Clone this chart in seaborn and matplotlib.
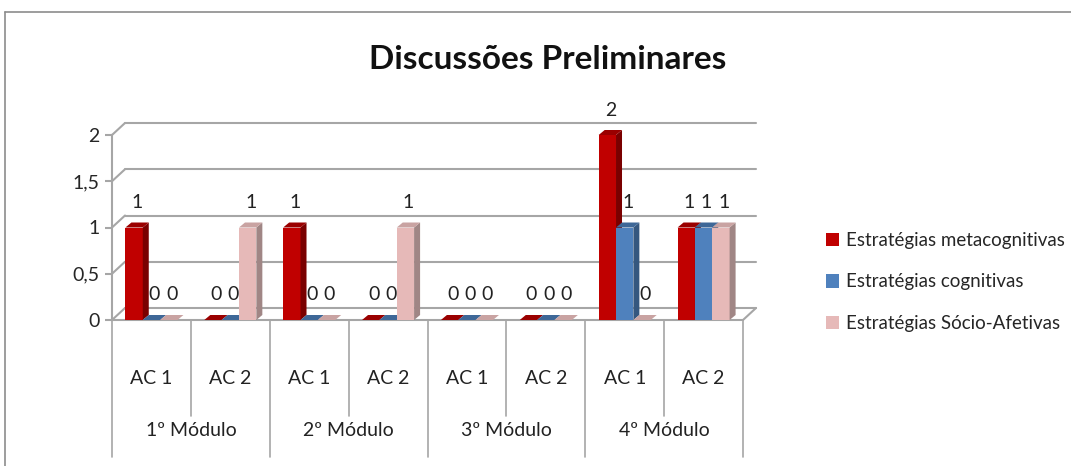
import matplotlib
matplotlib.use("Agg")
import matplotlib.pyplot as plt
from matplotlib.patches import Polygon, Patch
from matplotlib.lines import Line2D
import seaborn as sns
import pandas as pd

modulos = ["1º Módulo", "2º Módulo", "3º Módulo", "4º Módulo"]
atividades = ["AC 1", "AC 2"]
series = ["Estratégias metacognitivas", "Estratégias cognitivas", "Estratégias Sócio-Afetivas"]
metacognitivas = [1, 0, 1, 0, 0, 0, 2, 1]
cognitivas = [0, 0, 0, 0, 0, 0, 1, 1]
socio_afetivas = [0, 1, 0, 1, 0, 0, 0, 1]
yticks = [0, 0.5, 1, 1.5, 2]

cores = ["#C00000", "#4F81BD", "#E6B9B8"]
lados = ["#7A0000", "#35577F", "#A08685"]
topos = ["#9A0000", "#3E6797", "#C9A3A2"]
cinza = "#A6A6A6"

sns.set_style("white")
plt.rcParams["font.family"] = ["Lato", "DejaVu Sans"]

cats = [f"{m}|{a}" for m in modulos for a in atividades]
df = pd.DataFrame({
    "cat": cats * 3,
    "valor": metacognitivas + cognitivas + socio_afetivas,
    "serie": [s for s in series for _ in cats],
})

W, H = 1071, 466
fig = plt.figure(figsize=(W / 100, H / 100), dpi=100)
ax = fig.add_axes([112 / W, (H - 320) / H, (743 - 112) / W, 185 / H])
sns.barplot(data=df, x="cat", y="valor", hue="serie", order=cats, hue_order=series,
            palette=cores, saturation=1, width=0.66, legend=False, ax=ax)
ax.set_xlim(-0.5, len(cats) - 0.5)
ax.set_ylim(0, 2)
ax.patch.set_visible(False)
for s in ["top", "right", "bottom"]:
    ax.spines[s].set_visible(False)
ax.spines["left"].set_color(cinza)
ax.spines["left"].set_linewidth(1.5)
ax.set_xticks([])
ax.set_xlabel("")
ax.set_ylabel("")
ax.set_yticks(yticks, [f"{v:g}".replace(".", ",") for v in yticks])
ax.tick_params(axis="y", left=True, length=5, width=1.5, color=cinza, labelsize=14, pad=4)

# px -> data
bb = ax.get_window_extent()
ux = (len(cats)) / bb.width
uy = 2 / bb.height
x0a, x1a = ax.get_xlim()

# wall / floor
dxw, dyw = 13 * ux, 12 * uy
for y in yticks:
    ax.plot([x0a + dxw, x1a + dxw], [y + dyw, y + dyw], color=cinza, lw=1.5, zorder=1, clip_on=False)
    ax.plot([x0a, x0a + dxw], [y, y + dyw], color=cinza, lw=1.5, zorder=1, clip_on=False)
ax.plot([x0a, x1a, x1a + dxw], [0, 0, dyw], color=cinza, lw=1.5, zorder=1, clip_on=False)

# 3D bars
dxb, dyb = 6 * ux, 5 * uy
for i, cont in enumerate(ax.containers):
    for bar in cont:
        x0, w, h = bar.get_x(), bar.get_width(), bar.get_height()
        z = 10 + x0
        bar.set_zorder(z)
        bar.set_linewidth(0)
        ax.add_patch(Polygon([(x0 + w, 0), (x0 + w + dxb, dyb), (x0 + w + dxb, h + dyb), (x0 + w, h)],
                             closed=True, facecolor=lados[i], lw=0, zorder=z, clip_on=False))
        ax.add_patch(Polygon([(x0, h), (x0 + w, h), (x0 + w + dxb, h + dyb), (x0 + dxb, h + dyb)],
                             closed=True, facecolor=topos[i], lw=0, zorder=z, clip_on=False))
        ax.text(x0 + w / 2 + dxb / 2, h + 25 * uy, f"{h:g}", ha="center", va="center",
                fontsize=14, color="#222222", zorder=5, clip_on=False)

# category labels and dividers below the axis
tr = ax.get_xaxis_transform()
for k, cat in enumerate(cats):
    ax.text(k, (320 - 379) / 185, cat.split("|")[1], transform=tr, ha="center", va="center",
            fontsize=14, color="#222222")
for m, mod in enumerate(modulos):
    ax.text(2 * m + 0.5, (320 - 430) / 185, mod, transform=tr, ha="center", va="center",
            fontsize=14, color="#222222")
    ax.plot([2 * m + 0.5] * 2, [0, (320 - 416) / 185], transform=tr, color=cinza, lw=1.2, clip_on=False)
for m in range(len(modulos) + 1):
    ax.plot([2 * m - 0.5] * 2, [0, (320 - 457) / 185], transform=tr, color=cinza, lw=1.2, clip_on=False)

# outer frame
fig.add_artist(Line2D([5 / W, 1], [1 - 12 / H] * 2, transform=fig.transFigure, color="#8C8C8C", lw=1.2))
fig.add_artist(Line2D([5 / W] * 2, [0, 1 - 12 / H], transform=fig.transFigure, color="#8C8C8C", lw=1.2))

fig.text(548 / W, 1 - 60 / H, "Discussões Preliminares", ha="center", va="center",
         fontsize=24, fontweight="bold", color="#111111")

handles = [Patch(facecolor=c, edgecolor="none") for c in cores]
fig.legend(handles, series, loc="center left", bbox_to_anchor=(826 / W, 1 - 282 / H),
           frameon=False, fontsize=13.5, handlelength=0.7, handleheight=0.7,
           handletextpad=0.35, labelspacing=1.3, borderaxespad=0, borderpad=0)

fig.savefig("out.png", dpi=100)
